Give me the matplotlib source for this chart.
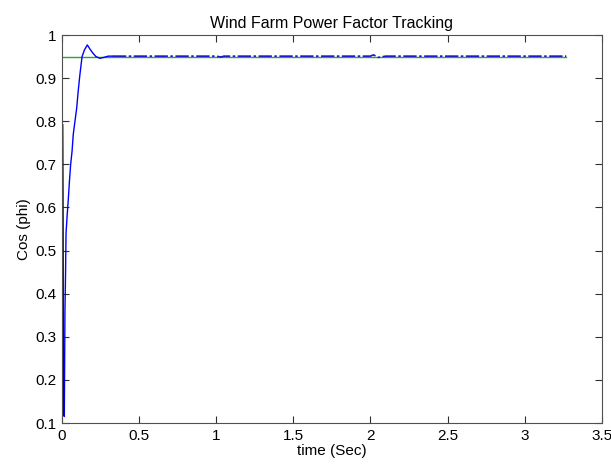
import numpy as np
import matplotlib.pyplot as plt

plt.rcParams['font.family'] = ['Liberation Sans', 'DejaVu Sans']
plt.rcParams['font.size'] = 11

# transient part of the measured power factor
t_trans = [0.0, 0.004, 0.008, 0.012, 0.015, 0.019, 0.023, 0.026, 0.033, 0.041,
           0.048, 0.056, 0.065, 0.073, 0.084, 0.095, 0.105, 0.115, 0.13, 0.145,
           0.164, 0.18, 0.2, 0.22, 0.246, 0.27, 0.3, 0.33]
pf_trans = [1.0, 0.6, 0.2, 0.12, 0.115, 0.36, 0.45, 0.54, 0.58, 0.62,
            0.66, 0.70, 0.73, 0.77, 0.80, 0.83, 0.87, 0.905, 0.95, 0.965,
            0.977, 0.968, 0.958, 0.95, 0.946, 0.948, 0.951, 0.951]
# initial dark spike
t_spike = [0.0, 0.003, 0.006]
pf_spike = [0.79, 0.4, 0.12]
# steady-state part
t_steady = [0.33, 1.0, 1.03, 1.05, 2.0, 2.02, 2.05, 2.1, 3.27]
pf_steady = [0.951, 0.951, 0.949, 0.951, 0.951, 0.954, 0.948, 0.951, 0.951]
# reference
t_ref = [0.0, 3.27]
pf_ref = [0.95, 0.95]

fig = plt.figure(figsize=(6.11, 4.65), dpi=100)
ax = fig.add_axes([0.1015, 0.0903, 0.8833, 0.8344])

ax.plot(t_ref, pf_ref, color='#33a033', lw=1.0)
ax.plot(t_trans, pf_trans, color='#0000ff', lw=1.0)
ax.plot(t_spike, pf_spike, color='#000080', lw=2.0)
ax.plot(t_steady, pf_steady, color='#1818c8', lw=1.2, ls=(0, (8, 1.5, 1.5, 1.5)))

ax.set_xlim(0, 3.5)
ax.set_ylim(0.1, 1.0)
ax.set_xticks(np.arange(0, 3.51, 0.5))
ax.set_xticklabels(['0', '0.5', '1', '1.5', '2', '2.5', '3', '3.5'])
ax.set_yticks(np.arange(0.1, 1.01, 0.1))
ax.set_yticklabels(['0.1', '0.2', '0.3', '0.4', '0.5', '0.6', '0.7', '0.8', '0.9', '1'])
ax.tick_params(direction='in', top=True, right=True, length=5, width=0.8,
               colors='#303030', labelcolor='black', pad=4)
for s in ax.spines.values():
    s.set_color('#505050')
    s.set_linewidth(0.8)

ax.set_title('Wind Farm Power Factor Tracking', fontsize=11.5, pad=5)
ax.set_xlabel('time (Sec)', labelpad=1)
ax.set_ylabel('Cos (phi)', labelpad=3)

fig.savefig('out.png')
